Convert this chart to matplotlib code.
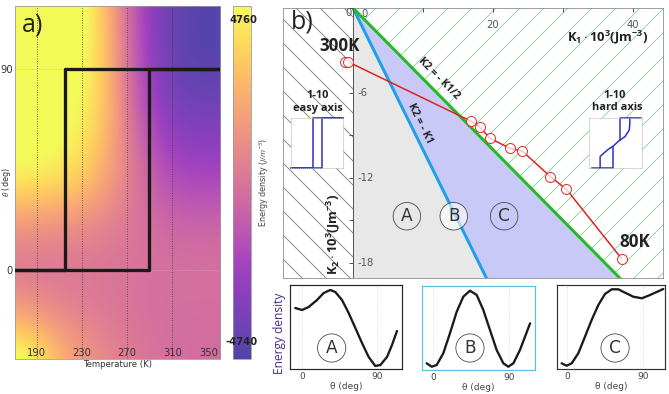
"""
Anisotropy energy map vs temperature (a) and K1-K2 phase diagram (b)
"""

### Import modules
import numpy as np
import matplotlib
matplotlib.use('Agg')
import matplotlib.pyplot as plt
from matplotlib.colors import ListedColormap
from matplotlib.patches import Polygon

### Panel a : energy density (J/m^3)
temp_grid = [170, 190, 210, 230, 250, 270, 290, 310, 330, 350]
theta_grid = [-40, -20, 0, 20, 40, 60, 80, 100, 120]
energy_grid = [
    [5710, 4760, 2860, 1720, 960, 390, 10, -180, -280, -370],
    [2100, 1530, 960, 580, 200, 10, -180, -280, -280, -280],
    [10, 10, 10, 10, 10, 10, -90, -90, -90, -90],
    [1440, 1250, 1150, 960, 580, 200, -270, -560, -650, -650],
    [4480, 4290, 4000, 3430, 2100, 680, -750, -1700, -1890, -1890],
    [5240, 5240, 4950, 4380, 2860, 490, -1610, -2840, -3130, -3130],
    [5710, 5710, 5240, 4760, 3240, 10, -2460, -3790, -4080, -4080],
    [5710, 5710, 5710, 4950, 3240, -180, -2840, -4170, -4550, -4550],
    [5710, 5710, 5710, 5240, 3050, -470, -2840, -4080, -4460, -4460],
]
emin, emax = -4740, 4760

### Hysteresis of the magnetisation angle (heating / cooling branch)
heat_temp = [171, 289, 289, 352]
heat_theta = [0, 0, 90, 90]
cool_temp = [352, 215, 215, 171]
cool_theta = [90, 90, 0, 0]

### Panel b : measured K1, K2 (x10^3 J/m^3) from 300K to 80K
k1_meas = [-1.1, -0.7, 16.9, 18.1, 19.6, 22.4, 24.2, 28.2, 30.5, 38.4]
k2_meas = [-3.8, -3.8, -8.0, -8.4, -9.2, -9.9, -10.1, -11.9, -12.8, -17.7]

### Phase boundaries K2 = -K1 and K2 = -K1/2
k1_bound = [0, 80]
k2_bound_b = [0, -80]
k2_bound_c = [0, -40]

### Small loop sketches (normalised field / magnetisation)
easy_up_h = [0, 0.6, 0.6, 1.0]
easy_up_m = [0, 0, 1, 1]
easy_dn_h = [1.0, 0.43, 0.43, 0.0]
easy_dn_m = [1, 1, 0, 0]
hard_lo_h = [0.05, 0.46, 0.46]
hard_lo_m = [0, 0, 0.42]
hard_s_h = [0.21, 0.21, 0.27, 0.36, 0.46, 0.55, 0.68, 0.76, 0.77, 0.77]
hard_s_m = [0, 0.23, 0.29, 0.37, 0.44, 0.53, 0.63, 0.76, 0.89, 1.0]
hard_hi_h = [0.58, 0.58, 0.99]
hard_hi_m = [0.56, 1, 1]

### Energy profiles of the three regions (arbitrary units)
theta_A = [-8, 0, 8, 18, 26, 34, 40, 48, 56, 64, 72, 80, 88, 94, 102, 108, 114]
energy_A = [61, 59, 62, 69, 76, 79, 77, 69, 56, 41, 26, 12, 3, 4, 12, 24, 38]
theta_B = [-7.5, -1.5, 4.4, 12.2, 20.1, 28.1, 35.9, 43.8, 51.8, 59.6, 67.5,
           75.4, 83.3, 89.2, 95.2, 103, 115]
energy_B = [6.7, 3.3, 5, 16.7, 36.7, 58.3, 73.3, 79.3, 75, 60, 40, 20, 6.7,
            3.3, 6.7, 20, 46.7]
theta_C = [-6.3, -0.4, 5.6, 13.4, 21.3, 29.2, 37.1, 45.0, 53.0, 60.8, 68.7,
           78.5, 88.5, 98.3, 114]
energy_C = [5.7, 3.3, 5.7, 15.7, 32.3, 49, 64, 75, 79.7, 79.7, 76.3, 72.3,
            70.7, 74, 80]

###########################################################################
### Define parameters
plt.rcParams['font.family'] = 'DejaVu Sans'
plt.rcParams['mathtext.fontset'] = 'custom'
plt.rcParams['mathtext.rm'] = 'Open Sans'
plt.rcParams['mathtext.it'] = 'Open Sans:italic'
plt.rcParams['mathtext.bf'] = 'Open Sans:bold'
plt.rcParams['hatch.linewidth'] = 1.0

W, H = 669, 394
fig = plt.figure(figsize=(W/72, H/72), dpi=72)

def box(x0, y0, x1, y1):
    return [x0/W, 1 - y1/H, (x1 - x0)/W, (y1 - y0)/H]

def fpos(x, y):
    return x/W, 1 - y/H

###########################################################################
### Panel a
axa = fig.add_axes(box(15, 6, 220, 359))
cax = fig.add_axes(box(233, 6, 251, 359))

base = plt.cm.plasma(np.linspace(0, 1, 256))[:, :3]
cmap = ListedColormap(0.75*base + 0.25)
dT = (temp_grid[1] - temp_grid[0])/2
dth = (theta_grid[1] - theta_grid[0])/2
im = axa.imshow(np.array(energy_grid), origin='lower', aspect='auto',
                cmap=cmap, vmin=emin, vmax=emax, interpolation='bicubic',
                extent=[temp_grid[0]-dT, temp_grid[-1]+dT,
                        theta_grid[0]-dth, theta_grid[-1]+dth])
axa.set_xlim(171, 352)
axa.set_ylim(-40, 118)

for t in [190, 230, 270, 310]:
    axa.axvline(t, color='#333333', lw=0.8, ls=(0, (1, 2)))
for th in [0, 90]:
    axa.axhline(th, color='#bbbbbb', lw=0.8, ls=(0, (1, 2)))

axa.plot(heat_temp, heat_theta, color='#1a1a1a', lw=3.3, zorder=4)
axa.plot(cool_temp, cool_theta, color='#1a1a1a', lw=3.3, zorder=4)

axa.set_xticks([190, 230, 270, 310, 350])
axa.set_yticks([0, 90])
axa.tick_params(axis='x', length=0, pad=-11, labelsize=10, labelcolor='#333333')
axa.tick_params(axis='y', length=0, pad=2, labelsize=10, labelcolor='#333333')
axa.get_xticklabels()[-1].set_horizontalalignment('right')
axa.set_xlabel('Temperature (K)', fontsize=8.5, color='#333333', labelpad=1)
axa.set_ylabel(r'$\theta$ (deg)', fontsize=8, color='#333333')
axa.yaxis.set_label_coords(-0.008, 0.5)
for s in axa.spines.values():
    s.set_color('#999999')

cb = fig.colorbar(im, cax=cax)
cb.set_ticks([])
cb.outline.set_edgecolor('#999999')
cb.set_label(r'Energy density ($J/m^{-3}$)', fontsize=8, color='#444444',
             labelpad=6)
fig.text(*fpos(243, 20), str(emax), fontsize=10, weight='bold',
         color='#222222', ha='center', va='center')
fig.text(*fpos(242, 342), str(emin), fontsize=10, weight='bold',
         color='#222222', ha='center', va='center')

fig.text(*fpos(33, 25), 'a)', fontsize=25, family='Open Sans',
         color='#222222', ha='center', va='center')

###########################################################################
### Panel b
axb = fig.add_axes(box(283, 8, 663, 278))
axb.set_xlim(-10, 44.3)
axb.set_ylim(-19.06, 0)
axb.set_xticks([])
axb.set_yticks([])
for s in axb.spines.values():
    s.set_color('#888888')

k1e, k2b, k2c = k1_bound[1], k2_bound_b[1], k2_bound_c[1]
axb.add_patch(Polygon([(-20, 0), (0, 0), (0, k2b), (-20, k2b)],
                      facecolor='white', edgecolor='#8a8a8a', hatch='\\',
                      lw=0, zorder=1))
axb.add_patch(Polygon([(0, 0), (k1e, k2b), (0, k2b)],
                      facecolor='#e8e8e8', lw=0, zorder=1))
axb.add_patch(Polygon([(0, 0), (k1e, k2b), (k1e, k2c)],
                      facecolor='#c9c9f8', lw=0, zorder=1))
axb.add_patch(Polygon([(0, 0), (k1e, k2c), (k1e, 0)],
                      facecolor='white', edgecolor='#9ad6ae', hatch='/',
                      lw=0, zorder=1))

axb.plot(k1_bound, k2_bound_b, color='#1e9fe8', lw=3, zorder=3)
axb.plot(k1_bound, k2_bound_c, color='#22bb22', lw=3, zorder=3)

### Inner axes at K1 = 0
axb.axvline(0, color='#555555', lw=1, zorder=4)
axb.plot([0]*7, [0, -3, -6, -9, -12, -15, -18], ls='none', marker=0, ms=4,
         mew=1, color='#555555', clip_on=False, zorder=4)
axb.plot([0, 10, 20, 30, 40], [0]*5, ls='none', marker=3, ms=4, mew=1,
         color='#555555', clip_on=False, zorder=4)
tick_kw = dict(fontsize=10, color='#555555', zorder=7)
axb.text(1.7, -0.42, '0', ha='center', va='center', **tick_kw)
axb.text(20, -1.2, '20', ha='center', va='center', **tick_kw)
axb.text(40, -1.2, '40', ha='center', va='center', **tick_kw)
axb.text(-0.7, -0.35, '0', ha='center', va='center', **tick_kw)
for v in [-6, -12, -18]:
    axb.text(0.6, v, str(v), ha='left', va='center', **tick_kw)

### Measured K1, K2
axb.plot(k1_meas, k2_meas, color='#dd2020', lw=1.5, zorder=5)
axb.plot(k1_meas, k2_meas, ls='none', marker='o', ms=10,
         mfc=(1, 1, 1, 0.75), mec='#dd3030', mew=1, zorder=6)

bold = dict(family='Open Sans', weight='bold', color='#222222', zorder=7)
axb.text(-1.86, -2.68, '300K', fontsize=17, ha='center', va='center', **bold)
axb.text(40.3, -16.5, '80K', fontsize=17, ha='center', va='center', **bold)
axb.text(36.4, -2.1, r'$\mathbf{K_1\cdot10^3(Jm^{-3})}$', fontsize=13,
         ha='center', va='center', **bold)
axb.text(-2.86, -16.0, r'$\mathbf{K_2\cdot10^3(Jm^{-3})}$', fontsize=13,
         rotation=90, ha='center', va='center', **bold)
axb.text(12.2, -5.0, 'K2 = - K1/2', fontsize=10.5, rotation=-45.3,
         rotation_mode='anchor', ha='center', va='center', **bold)
axb.text(9.57, -8.12, 'K2 = - K1', fontsize=10.5, rotation=-63.7,
         rotation_mode='anchor', ha='center', va='center', **bold)

circ_kw = dict(fontsize=17, color='#333333', ha='center', va='center',
               zorder=7)
axb.text(7.7, -14.7, 'A', bbox=dict(boxstyle='circle,pad=0.28', fc='none',
                                    ec='#444444', lw=0.8), **circ_kw)
axb.text(14.4, -14.7, 'B', bbox=dict(boxstyle='circle,pad=0.28',
                                     fc=(1, 1, 1, 0.6), ec='#444444', lw=0.8),
         **circ_kw)
axb.text(21.6, -14.7, 'C', bbox=dict(boxstyle='circle,pad=0.28', fc='none',
                                     ec='#444444', lw=0.8), **circ_kw)

fig.text(*fpos(302, 22), 'b)', fontsize=25, family='Open Sans',
         color='#222222', ha='center', va='center')

### Loop sketches
def loop_axes(rect):
    ax = fig.add_axes(rect, zorder=5)
    ax.set_facecolor('white')
    ax.set_xlim(0, 1)
    ax.set_ylim(0, 1)
    ax.set_xticks([])
    ax.set_yticks([])
    for s in ax.spines.values():
        s.set_color('#c0c0c0')
        s.set_linestyle(':')
        s.set_linewidth(0.8)
    return ax

axe = loop_axes(box(291, 118, 343, 168))
for hh, mm in [(easy_up_h, easy_up_m), (easy_dn_h, easy_dn_m)]:
    axe.plot(hh, mm, color='#2b2bc8', lw=1.5, clip_on=False)
axh = loop_axes(box(589, 118, 642, 168))
for hh, mm in [(hard_lo_h, hard_lo_m), (hard_s_h, hard_s_m),
               (hard_hi_h, hard_hi_m)]:
    axh.plot(hh, mm, color='#2b2bc8', lw=1.5, clip_on=False)

lab = dict(family='Open Sans', weight='bold', color='#222222', fontsize=11,
           ha='center', va='center', zorder=8)
fig.text(*fpos(318, 96), '1-10', **lab)
fig.text(*fpos(318, 108), 'easy axis', **lab)
fig.text(*fpos(615, 96), '1-10', **lab)
fig.text(*fpos(617, 108), 'hard axis', **lab)

###########################################################################
### Energy profiles
def energy_axes(rect, xlim, theta, energy, letter, pos, frame):
    ax = fig.add_axes(rect)
    for th in [0, 90]:
        ax.axvline(th, color='#cccccc', lw=0.8, ls=(0, (1, 2)))
    ax.plot(theta, energy, color='#1a1a1a', lw=2.3, solid_capstyle='round')
    ax.set_xlim(*xlim)
    ax.set_ylim(0, 84)
    ax.set_xticks([0, 90])
    ax.set_yticks([])
    ax.tick_params(axis='x', length=0, pad=3, labelsize=9, labelcolor='#444444')
    ax.set_xlabel('θ (deg)', fontsize=9, color='#444444', labelpad=1)
    for s in ax.spines.values():
        s.set_color(frame)
        s.set_linewidth(1.2)
    ax.text(pos[0], pos[1], letter, fontsize=17, color='#333333',
            ha='center', va='center',
            bbox=dict(boxstyle='circle,pad=0.3', fc='none', ec='#444444',
                      lw=0.8))
    return ax

energy_axes(box(290, 285, 402, 369), (-14.4, 120), theta_A, energy_A, 'A',
            (35.6, 21), '#222222')
energy_axes(box(422, 286, 535, 370), (-13, 120.8), theta_B, energy_B, 'B',
            (43.8, 22), '#5bbde0')
energy_axes(box(557, 285, 665, 369), (-11.8, 116), theta_C, energy_C, 'C',
            (56.9, 21), '#333333')

fig.text(*fpos(280, 333), 'Energy density', rotation=90, fontsize=12,
         family='Open Sans', color='#4b2c8c', ha='center', va='center')

### Save figure
plt.savefig('out.png', dpi=72)
